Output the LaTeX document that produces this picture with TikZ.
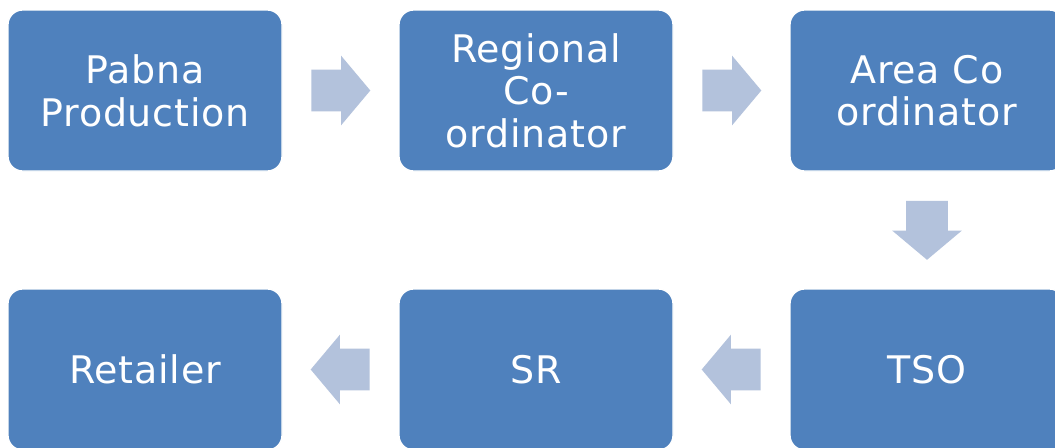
\documentclass[tikz,border=0pt]{standalone}
\usepackage{fontspec}
\setmainfont{DejaVu Sans}[LetterSpace=2]
\usetikzlibrary{shapes.arrows,calc}
\definecolor{boxblue}{HTML}{4F81BD}
\definecolor{arrowblue}{HTML}{B3C2DC}
\tikzset{
  stage/.style={rectangle,rounded corners=11pt,fill=boxblue,draw=white,line width=1pt,
    minimum width=205.5pt,minimum height=120.75pt,text=white,align=center,
    font=\fontsize{28.5}{32}\selectfont},
  flow/.style={single arrow,anchor=tail,fill=arrowblue,draw=none,inner xsep=0pt,inner ysep=15.4pt,
    minimum height=44.25pt,single arrow head extend=10.5pt,single arrow tip angle=100}
}
\begin{document}
\begin{tikzpicture}[x=0.75pt,y=-0.75pt]
\clip (0,0) rectangle (1055,447);
\fill[white] (0,0) rectangle (1055,447);
% top row
\node[stage] (pabna) at (145,90.5) {Pabna\\Production};
\node[stage] (regional) at (536,90.5) {Regional\\Co-\\ordinator};
\node[stage] (area) at (927,90.5) {Area Co\\ordinator};
% bottom row
\node[stage] (tso) at (927,369.5) {TSO};
\node[stage] (sr) at (536,369.5) {SR};
\node[stage] (retailer) at (145,369.5) {Retailer};
% arrows, tail set back half a length from the gap's middle
\node[flow] (a1) at ($(pabna.east)!0.5!(regional.west)!-22.1pt!(regional.west)$) {};
\node[flow] (a2) at ($(regional.east)!0.5!(area.west)!-22.1pt!(area.west)$) {};
\node[flow,rotate=-90] (a3) at ($(area.south)!0.5!(tso.north)!-22.1pt!(tso.north)$) {};
\node[flow,rotate=180] (a4) at ($(tso.west)!0.5!(sr.east)!-22.1pt!(sr.east)$) {};
\node[flow,rotate=180] (a5) at ($(sr.west)!0.5!(retailer.east)!-22.1pt!(retailer.east)$) {};
\end{tikzpicture}
\end{document}
